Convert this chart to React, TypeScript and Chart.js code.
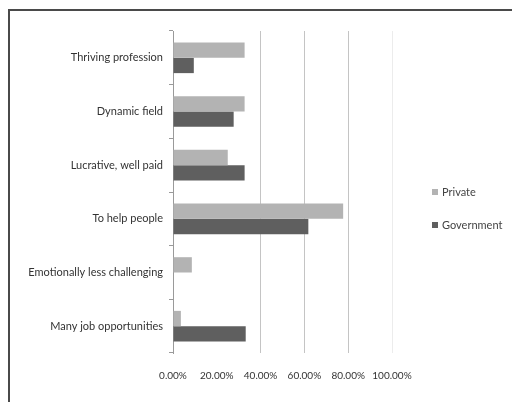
import React, { useEffect, useRef } from "react";
import { Chart, registerables } from "chart.js";

Chart.register(...registerables);

const categories = [
  "Thriving profession",
  "Dynamic field",
  "Lucrative, well paid",
  "To help people",
  "Emotionally less challenging",
  "Many job opportunities",
];
const privateValues = [32.7, 32.7, 25.0, 77.7, 8.6, 3.6];
const governmentValues = [9.5, 27.7, 32.7, 61.8, 0, 33.2];
const xTicks = [0, 20, 40, 60, 80, 100];

const FAMILY = "Lato, 'Liberation Sans', Arial, sans-serif";

const sideLegend = {
  id: "sideLegend",
  afterDraw(chart: any) {
    const { ctx, chartArea } = chart;
    const mid = (chartArea.top + chartArea.bottom) / 2;
    const x = chartArea.right + 40;
    ctx.save();
    ctx.font = `11px ${FAMILY}`;
    ctx.textBaseline = "middle";
    ctx.textAlign = "left";
    chart.data.datasets.forEach((ds: any, i: number) => {
      const y = mid + i * 33;
      ctx.fillStyle = ds.backgroundColor;
      ctx.fillRect(x, y - 3, 6, 6);
      ctx.fillStyle = "#444";
      ctx.fillText(ds.label, x + 10, y);
    });
    ctx.restore();
  },
};

export default function App() {
  const ref = useRef<HTMLCanvasElement | null>(null);
  useEffect(() => {
    if (!ref.current) return;
    const chart = new Chart(ref.current, {
      type: "bar",
      data: {
        labels: categories,
        datasets: [
          {
            label: "Private",
            data: privateValues,
            backgroundColor: "#b3b3b3",
            categoryPercentage: 0.57,
            barPercentage: 1,
          },
          {
            label: "Government",
            data: governmentValues,
            backgroundColor: "#5f5f5f",
            categoryPercentage: 0.57,
            barPercentage: 1,
          },
        ],
      },
      plugins: [sideLegend],
      options: {
        indexAxis: "y",
        animation: false,
        responsive: false,
        layout: { padding: { left: 0, top: 31, bottom: 3, right: 120 } },
        plugins: {
          tooltip: { enabled: false },
          legend: { display: false },
        },
        scales: {
          x: {
            min: 0,
            max: 100,
            afterBuildTicks: (axis: any) => {
              axis.ticks = xTicks.map((v) => ({ value: v }));
            },
            ticks: {
              color: "#333",
              font: { family: FAMILY, size: 10 },
              padding: 17,
              maxRotation: 0,
              callback: (v: any) => Number(v).toFixed(2) + "%",
            },
            grid: {
              color: (ctx: any) => {
                const v = ctx.tick ? ctx.tick.value : -1;
                if (v === 20) return "rgba(0,0,0,0)";
                if (v === 100) return "#ececec";
                return "#c4c4c4";
              },
              lineWidth: 1,
              drawTicks: false,
            },
            border: { display: false },
          },
          y: {
            afterFit: (axis: any) => {
              axis.width = 173;
            },
            ticks: { color: "#333", font: { family: FAMILY, size: 11 }, padding: 6 },
            grid: {
              offset: true,
              drawOnChartArea: false,
              tickLength: 4,
              color: "#9a9a9a",
            },
            border: { display: true, color: "#9a9a9a" },
          },
        },
      },
    });
    return () => chart.destroy();
  }, []);
  return (
    <div
      style={{
        position: "fixed",
        left: 0,
        top: 0,
        width: 512,
        height: 402,
        background: "#fff",
        overflow: "hidden",
      }}
    >
      <div
        style={{
          position: "absolute",
          left: 8,
          top: 9,
          width: 520,
          height: 420,
          border: "2px solid #4a4a4a",
          boxSizing: "border-box",
        }}
      />
      <canvas
        ref={ref}
        width={512}
        height={402}
        style={{ position: "absolute", left: 0, top: 0, width: 512, height: 402 }}
      />
    </div>
  );
}
